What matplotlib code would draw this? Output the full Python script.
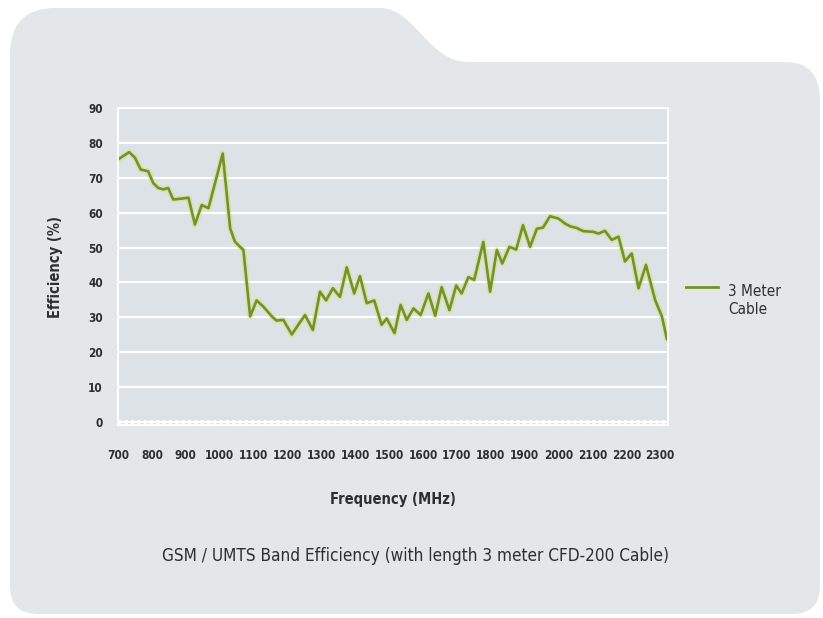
import matplotlib

matplotlib.use("Agg")
import matplotlib.pyplot as plt
from matplotlib.lines import Line2D
from matplotlib.patches import PathPatch
from matplotlib.path import Path

# efficiency of the 3 m cable
freq_mhz = [
    700, 733, 750, 767, 789, 804, 819, 834, 848, 863, 883, 908, 927, 947, 967,
    1009, 1031, 1045, 1060, 1070, 1090, 1109, 1129, 1154, 1168, 1188, 1213, 1232,
    1252, 1275, 1296, 1314, 1334, 1355, 1375, 1397, 1414, 1434, 1456, 1478, 1493,
    1516, 1534, 1552, 1572, 1593, 1616, 1636, 1655, 1678, 1698, 1714, 1734, 1751,
    1778, 1798, 1818, 1834, 1855, 1875, 1895, 1916, 1936, 1954, 1975, 2000, 2019,
    2034, 2054, 2073, 2103, 2118, 2137, 2157, 2177, 2196, 2216, 2236, 2258, 2285,
    2305, 2320,
]
efficiency = [
    75.3, 77.4, 75.8, 72.4, 71.9, 68.5, 67.1, 66.7, 67.1, 63.8, 64.0, 64.3, 56.6,
    62.2, 61.3, 77.0, 55.5, 51.7, 50.2, 49.3, 30.2, 34.8, 33.0, 30.2, 29.0, 29.2,
    25.0, 27.8, 30.6, 26.3, 37.3, 34.8, 38.3, 35.8, 44.3, 36.8, 41.8, 34.0, 34.8,
    27.8, 29.6, 25.4, 33.5, 29.2, 32.5, 30.6, 36.8, 30.4, 38.6, 32.0, 39.1, 36.8,
    41.5, 40.7, 51.6, 37.3, 49.3, 45.4, 50.2, 49.4, 56.4, 50.2, 55.4, 55.7, 59.0,
    58.3, 56.9, 56.1, 55.6, 54.7, 54.5, 54.0, 54.8, 52.2, 53.1, 46.0, 48.3, 38.3,
    45.0, 34.9, 30.2, 23.6,
]
x_ticks = list(range(700, 2301, 100))
y_ticks = list(range(0, 91, 10))

PANEL = "#e3e7ea"
PLOT_BG = "#dde2e7"
LINE = "#74922a"
GLOW = "#d2e27a"
TEXT = "#2e2e2e"
FONT = dict(family="DejaVu Sans", stretch="condensed")

W, H = 823, 618
fig = plt.figure(figsize=(W / 100, H / 100), dpi=100)
fig.patch.set_facecolor("white")

# background panel with the folder-tab outline, in pixel units
bg = fig.add_axes([0, 0, 1, 1], zorder=-1)
bg.set_xlim(0, W)
bg.set_ylim(H, 0)
bg.axis("off")
M, L, C3, C4 = Path.MOVETO, Path.LINETO, Path.CURVE3, Path.CURVE4
verts = [
    (10, 55), (10, 8), (55, 8),
    (380, 8),
    (415, 8), (428, 62), (468, 62),
    (785, 62),
    (820, 62), (820, 100),
    (820, 586),
    (820, 614), (792, 614),
    (38, 614),
    (10, 614), (10, 586),
    (10, 55),
]
codes = [M, C3, C3, L, C4, C4, C4, L, C3, C3, L, C3, C3, L, C3, C3, Path.CLOSEPOLY]
bg.add_patch(PathPatch(Path(verts, codes), facecolor=PANEL, edgecolor="none"))

ax = fig.add_axes([118 / W, 1 - 425 / H, (668 - 118) / W, (425 - 108.3) / H])
ax.set_facecolor(PLOT_BG)
ax.set_xlim(700, 2323)
ax.set_ylim(-1, 90)
for spine in ax.spines.values():
    spine.set_color("white")
    spine.set_linewidth(1.3)
ax.set_yticks(y_ticks)
ax.set_xticks(x_ticks)
ax.grid(axis="y", color="white", linewidth=1.5)
ax.set_axisbelow(True)
ax.tick_params(length=0, colors=TEXT, labelsize=8.5)
ax.tick_params(axis="x", pad=17)
ax.tick_params(axis="y", pad=11)
for lab in ax.get_xticklabels() + ax.get_yticklabels():
    lab.set(**FONT, fontweight="bold")

# dotted baseline along zero
ax.axhline(-0.2, color="white", linewidth=3.5, dashes=(0.6, 0.7), zorder=1.5)

ax.plot(freq_mhz, efficiency, color=GLOW, linewidth=4.2, alpha=0.5,
        solid_joinstyle="round", solid_capstyle="round")
ax.plot(freq_mhz, efficiency, color=LINE, linewidth=1.9,
        solid_joinstyle="round", solid_capstyle="round")

ax.set_xlabel("Frequency (MHz)", fontsize=10.5, fontweight="bold", color=TEXT,
              labelpad=22, **FONT)
ax.set_ylabel("Efficiency (%)", fontsize=10.5, fontweight="bold", color=TEXT,
              labelpad=18, **FONT)

# legend drawn by hand so the line sits level with the first text line
fig.add_artist(Line2D([686 / W, 718 / W], [1 - 287 / H] * 2, color=LINE, linewidth=2))
fig.text(728 / W, 1 - 301 / H, "3 Meter\nCable", fontsize=11, color=TEXT,
         va="center", ha="left", linespacing=1.25, **FONT)

fig.text(416 / W, 1 - 556 / H,
         "GSM / UMTS Band Efficiency (with length 3 meter CFD-200 Cable)",
         fontsize=12.3, color=TEXT, ha="center", va="center", **FONT)

fig.savefig("out.png", dpi=100, facecolor=fig.get_facecolor())
